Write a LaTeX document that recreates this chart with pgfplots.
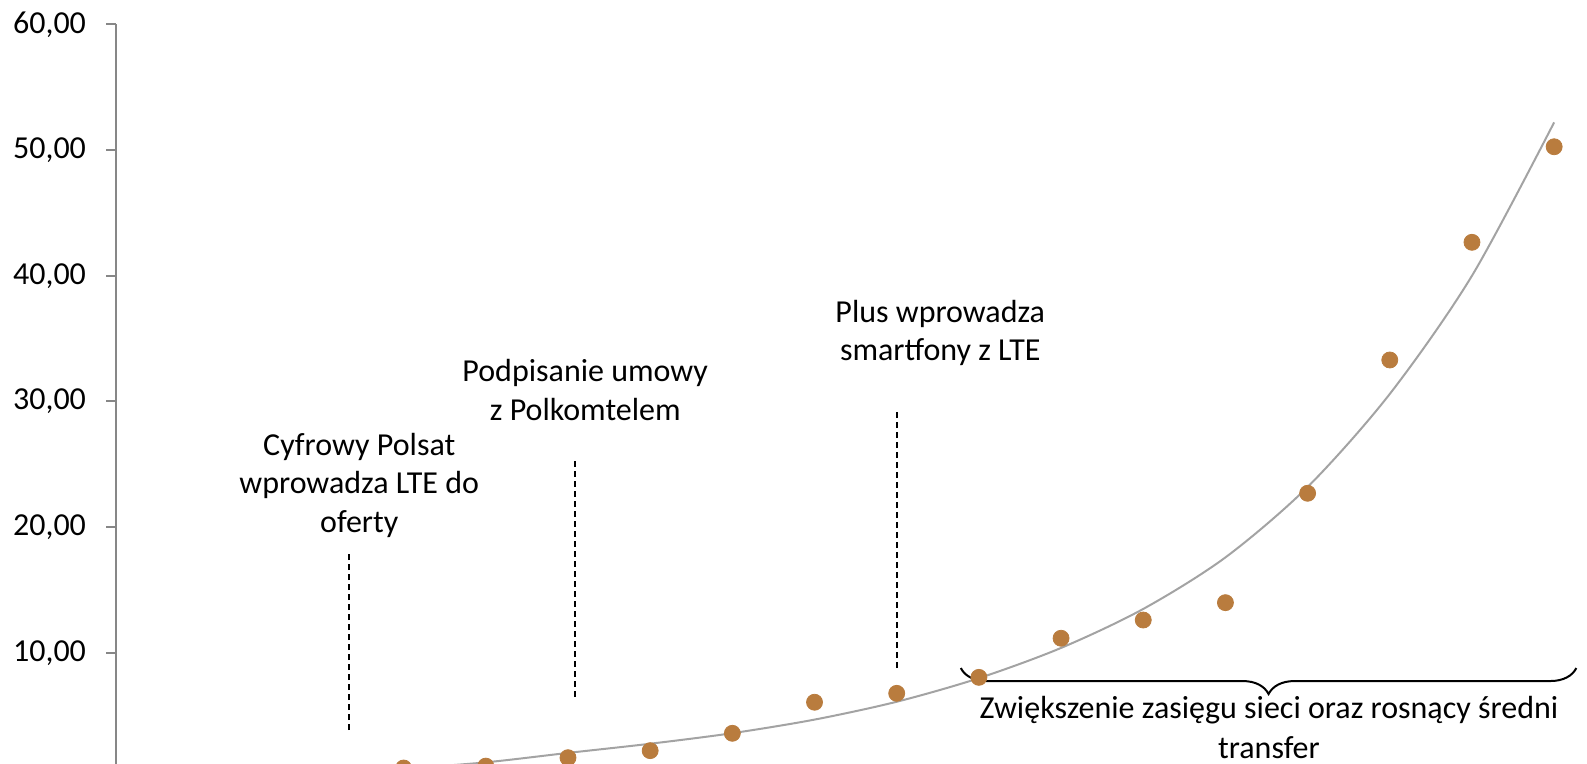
\documentclass[border=0pt]{standalone}
\usepackage{fontspec}
\setmainfont{Carlito}
\usepackage{pgfplots}
\pgfplotsset{compat=1.18}
\usetikzlibrary{decorations.pathreplacing}
\definecolor{dotc}{HTML}{B97C3E}
\definecolor{axg}{HTML}{878787}
\definecolor{trg}{HTML}{A3A3A3}
\begin{document}
\begin{tikzpicture}
\begin{axis}[
 scale only axis, width=735.5pt, height=377.2pt,
 xmin=0.5, xmax=18.4, ymin=0, ymax=60,
 axis x line=none, axis y line*=left,
 axis line style={-, draw=axg, line width=1pt},
 ytick={10,20,30,40,50,60},
 tick align=outside, major tick length=5pt,
 ytick style={draw=axg, line width=1pt},
 yticklabel={\pgfmathprintnumber[fixed,fixed zerofill,precision=2,use comma,assume math mode=true]{\tick}},
 yticklabel style={font=\fontsize{16}{19}\selectfont, text=black, xshift=-6.5pt},
]
\addplot[only marks, dotc, mark=*, mark size=4pt, mark options={fill=dotc, draw=dotc}] coordinates {
(4,0.85) (5,1.00) (6,1.67) (7,2.23) (8,3.61) (9,6.08) (10,6.79) (11,8.06)
(12,11.17) (13,12.62) (14,14.00) (15,22.70) (16,33.30) (17,42.66) (18,50.26)};
\addplot[trg, line width=1pt, smooth, no marks] coordinates {
(3,0.40) (4,0.80) (5,1.30) (6,2.05) (7,2.78) (8,3.62) (9,4.70) (10,6.12)
(11,7.995) (12,10.40) (13,13.50) (14,17.60) (15,23.20) (16,30.60) (17,40.00) (18,52.20)};
\draw[black, line width=1pt, dash pattern=on 3pt off 2pt] (axis cs:3.34,3.87) -- (axis cs:3.34,17.95);
\draw[black, line width=1pt, dash pattern=on 3pt off 2pt] (axis cs:6.09,6.5) -- (axis cs:6.09,25.35);
\draw[black, line width=1pt, dash pattern=on 3pt off 2pt] (axis cs:10.0,8.8) -- (axis cs:10.0,29.4);
\node[align=center, font=\fontsize{16}{19.25}\selectfont] at (axis cs:3.46,23.36) {Cyfrowy Polsat\\wprowadza LTE do\\oferty};
\node[align=center, font=\fontsize{16}{19.25}\selectfont] at (axis cs:6.21,30.91) {Podpisanie umowy\\z Polkomtelem};
\node[align=center, font=\fontsize{16}{19.25}\selectfont] at (axis cs:10.53,35.43) {Plus wprowadza\\smartfony z LTE};
\draw[black, line width=1pt, decorate, decoration={brace, mirror, amplitude=13pt}] (axis cs:10.78,8.8) -- (axis cs:18.27,8.8);
\node[align=center, font=\fontsize{16}{20}\selectfont] at (axis cs:14.53,4.05) {Zwiększenie zasięgu sieci oraz rosnący średni\\transfer};
\coordinate (SW) at (axis cs:0.5,1.17);
\coordinate (NE) at (rel axis cs:1,1);
\end{axis}
\pgfresetboundingbox
\path[use as bounding box] ([xshift=-58pt]SW) rectangle ([yshift=12.15pt]NE);
\end{tikzpicture}
\end{document}
